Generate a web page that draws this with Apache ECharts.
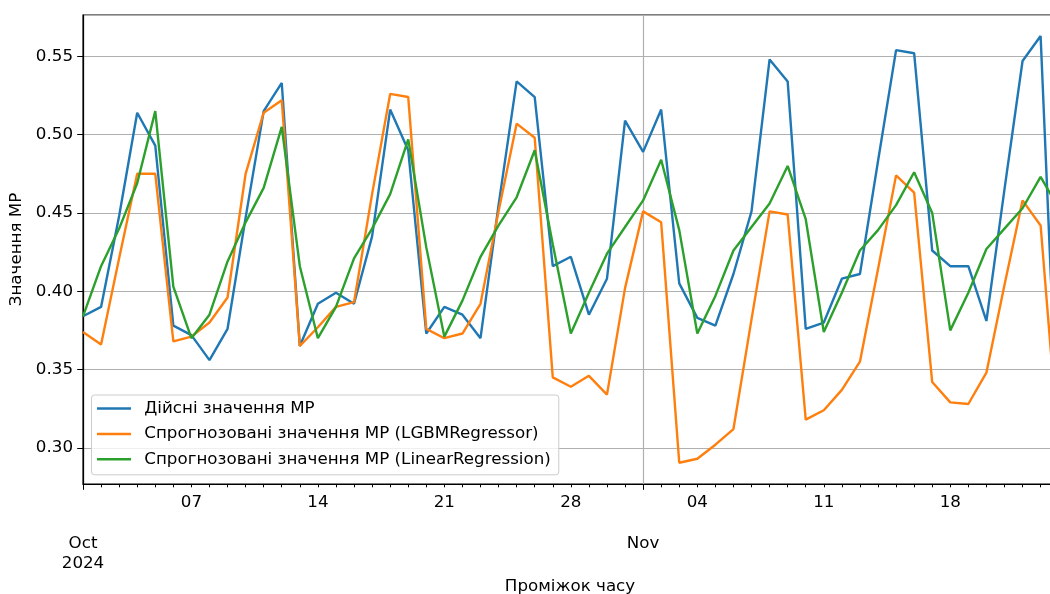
<!DOCTYPE html>
<html><head><meta charset="utf-8">
<script src="https://cdn.jsdelivr.net/npm/echarts@6/dist/echarts.min.js"></script>
<style>html,body{margin:0;padding:0;background:#fff}#c{width:1050px;height:594px}</style>
</head><body><div id="c"></div>
<script>
const seriesNames = ['Дійсні значення МР', 'Спрогнозовані значення МР (LGBMRegressor)', 'Спрогнозовані значення МР (LinearRegression)'];
const seriesColors = ['#1f77b4', '#ff7f0e', '#2ca02c'];
const startDate = '2024-10-01';
const actual = [0.384, 0.390, 0.448, 0.514, 0.493, 0.378, 0.372, 0.356, 0.376, 0.447,
  0.515, 0.533, 0.365, 0.392, 0.399, 0.392, 0.435, 0.516, 0.490, 0.373,
  0.390, 0.385, 0.370, 0.455, 0.534, 0.524, 0.416, 0.422, 0.385, 0.408,
  0.509, 0.489, 0.516, 0.405, 0.383, 0.378, 0.411, 0.451, 0.548, 0.534,
  0.376, 0.380, 0.408, 0.411, 0.483, 0.554, 0.552, 0.426, 0.416, 0.416,
  0.381, 0.465, 0.547, 0.563, 0.292];
const lgbm = [0.374, 0.366, 0.421, 0.475, 0.475, 0.368, 0.371, 0.380, 0.396, 0.475,
  0.514, 0.522, 0.365, 0.377, 0.390, 0.393, 0.462, 0.526, 0.524, 0.376,
  0.370, 0.373, 0.392, 0.451, 0.507, 0.498, 0.345, 0.339, 0.346, 0.334,
  0.402, 0.451, 0.444, 0.2905, 0.293, 0.302, 0.312, 0.382, 0.451, 0.449,
  0.318, 0.324, 0.337, 0.355, 0.414, 0.474, 0.463, 0.342, 0.329, 0.328,
  0.348, 0.404, 0.458, 0.442, 0.300];
const linreg = [0.384, 0.416, 0.440, 0.469, 0.515, 0.403, 0.370, 0.385, 0.419, 0.444,
  0.466, 0.505, 0.416, 0.370, 0.390, 0.421, 0.440, 0.462, 0.497, 0.428,
  0.371, 0.394, 0.422, 0.442, 0.460, 0.490, 0.430, 0.373, 0.399, 0.424,
  0.441, 0.458, 0.484, 0.439, 0.373, 0.397, 0.426, 0.441, 0.456, 0.480,
  0.446, 0.374, 0.399, 0.426, 0.439, 0.455, 0.476, 0.450, 0.375, 0.399,
  0.427, 0.440, 0.453, 0.473, 0.453];
const weekTickDates = ['2024-10-07', '2024-10-14', '2024-10-21', '2024-10-28', '2024-11-04', '2024-11-11', '2024-11-18'];
const weekTickLabels = ['07', '14', '21', '28', '04', '11', '18'];
const monthTickDates = ['2024-10-01', '2024-11-01'];
const monthTickLabels = ['Oct\n2024', 'Nov'];
const yLabel = 'Значення МР';
const xLabel = 'Проміжок часу';

const DAY = 86400000;
const START = Date.parse(startDate);
const X_MIN = START;
const X_MAX = START + 53.575 * DAY;
const FONT = 'DejaVu Sans';
const FS = 16.7;
const toPairs = arr => arr.map((v, i) => [START + i * DAY, v]);
const weekTs = weekTickDates.map(Date.parse);
const monthTs = monthTickDates.map(Date.parse);

const chart = echarts.init(document.getElementById('c'), null, {renderer: 'canvas'});
chart.setOption({
  animation: false,
  backgroundColor: '#fff',
  textStyle: {fontFamily: FONT},
  grid: {left: 83, right: -1, top: 15, bottom: 110, show: true, borderColor: '#000', borderWidth: 1.2,
    backgroundColor: 'transparent', containLabel: false, outerBoundsMode: 'none'},
  legend: {
    orient: 'vertical', left: 91.5, top: 395, padding: [5, 8, 7, 5.5], itemGap: 8.4,
    itemWidth: 34, itemHeight: 2.5, icon: 'rect',
    backgroundColor: 'rgba(255,255,255,0.8)', borderColor: '#cccccc', borderWidth: 1, borderRadius: 3,
    textStyle: {fontFamily: FONT, fontSize: FS, lineHeight: 17, color: '#000', padding: [0, 0, 0, 8.3]},
    data: seriesNames
  },
  xAxis: [{
    type: 'value', min: X_MIN, max: X_MAX, interval: DAY,
    name: xLabel, nameLocation: 'middle', nameGap: 94, nameMoveOverlap: false,
    nameTextStyle: {fontFamily: FONT, fontSize: FS, color: '#000', padding: [0, 0, 0, 6]},
    axisLine: {show: true, lineStyle: {color: '#000', width: 1.2}},
    axisTick: {show: true, length: 3.3, lineStyle: {color: '#000', width: 1}},
    splitLine: {show: false},
    axisLabel: {
      show: true, margin: 10, fontFamily: FONT, fontSize: FS, color: '#000',
      showMinLabel: true, showMaxLabel: false, hideOverlap: false,
      formatter: function (v) {
        const wi = weekTs.indexOf(v);
        return wi >= 0 ? weekTickLabels[wi] : '';
      }
    }
  }, {
    type: 'value', min: X_MIN, max: X_MAX, interval: 31 * DAY, position: 'bottom',
    axisLine: {show: false},
    axisTick: {show: true, length: 5.8, lineStyle: {color: '#000', width: 1}},
    splitLine: {show: true, lineStyle: {color: '#b0b0b0', width: 1.2}},
    axisLabel: {
      show: true, margin: 50, fontFamily: FONT, fontSize: FS, color: '#000', lineHeight: 19.5,
      showMinLabel: true, showMaxLabel: false, hideOverlap: false,
      formatter: function (v) {
        const mi = monthTs.indexOf(v);
        return mi >= 0 ? monthTickLabels[mi] : '';
      }
    }
  }],
  yAxis: {
    type: 'value', min: 0.2769, max: 0.5764, splitNumber: 6,
    name: yLabel, nameLocation: 'middle', nameGap: 57.5, nameMoveOverlap: false,
    nameTextStyle: {fontFamily: FONT, fontSize: FS, color: '#000'},
    axisLine: {show: true, lineStyle: {color: '#000', width: 1.2}},
    axisTick: {show: true, length: 5.8, lineStyle: {color: '#000', width: 1}},
    splitLine: {show: true, lineStyle: {color: '#b0b0b0', width: 1.2}},
    axisLabel: {
      margin: 10, fontFamily: FONT, fontSize: FS, color: '#000',
      showMinLabel: false, showMaxLabel: false,
      formatter: v => (Math.abs(v * 20 - Math.round(v * 20)) < 1e-6 ? v.toFixed(2) : '')
    }
  },
  series: [actual, lgbm, linreg].map((arr, k) => ({
    name: seriesNames[k], type: 'line', xAxisIndex: 0, yAxisIndex: 0,
    data: toPairs(arr), symbol: 'none', showSymbol: false, clip: true,
    color: seriesColors[k],
    lineStyle: {color: seriesColors[k], width: 2.4},
    itemStyle: {color: seriesColors[k]}
  }))
});
</script></body></html>
